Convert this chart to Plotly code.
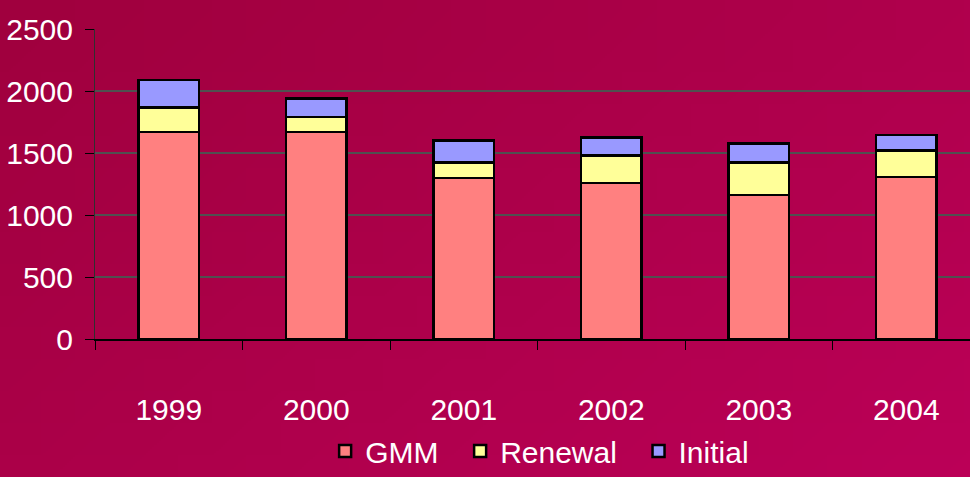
import base64, struct, zlib
import plotly.graph_objects as go

years = ["1999", "2000", "2001", "2002", "2003", "2004"]
gmm = [1670, 1670, 1300, 1260, 1160, 1305]
renewal = [195, 120, 125, 220, 265, 215]
initial = [225, 150, 175, 145, 150, 125]
y_ticks = [0, 500, 1000, 1500, 2000, 2500]

# gradient background image (style only)
def make_png(w, h):
    rows = b""
    for j in range(h):
        rows += b"\x00"
        for i in range(w):
            t = (i / (w - 1)) * 0.6 + (j / (h - 1)) * 0.4
            r = int(0xA0 + (0xBE - 0xA0) * t)
            g = 0
            b = int(0x3E + (0x5A - 0x3E) * t)
            rows += bytes([r, g, b])
    def chunk(tag, data):
        c = tag + data
        return struct.pack(">I", len(data)) + c + struct.pack(">I", zlib.crc32(c) & 0xffffffff)
    png = b"\x89PNG\r\n\x1a\n" + chunk(b"IHDR", struct.pack(">IIBBBBB", w, h, 8, 2, 0, 0, 0))
    png += chunk(b"IDAT", zlib.compress(rows)) + chunk(b"IEND", b"")
    return "data:image/png;base64," + base64.b64encode(png).decode()

FONT = "Liberation Sans, Arial, sans-serif"
FS = 30
PAD = "\u00a0" * 2

fig = go.Figure()
for name, vals, col in [("GMM", gmm, "#FF8080"), ("Renewal", renewal, "#FFFF99"), ("Initial", initial, "#9999FF")]:
    fig.add_trace(go.Bar(x=years, y=vals, name=name + PAD, marker=dict(color=col, line=dict(color="black", width=2.5)),
                         width=0.41))

fig.update_layout(
    barmode="stack",
    width=970, height=477,
    margin=dict(l=95, r=0, t=29, b=138, autoexpand=False),
    paper_bgcolor="#B0004C",
    plot_bgcolor="#C0C0C0",
    font=dict(family=FONT, size=FS, color="white"),
    showlegend=True,
    legend=dict(orientation="h", x=0.263, xanchor="left", yref="container", y=-0.018, yanchor="bottom",
                font=dict(size=FS, color="white"), traceorder="normal",
                bgcolor="rgba(0,0,0,0)"),
    images=[dict(source=make_png(32, 16), xref="paper", yref="paper", x=-0.12, y=1.12,
                 sizex=1.25, sizey=1.65, sizing="stretch", xanchor="left", yanchor="top", layer="below")],
    xaxis=dict(type="category", range=[-0.5, 5.432], showline=True, linecolor="black", linewidth=2,
               ticks="outside", tickson="boundaries", ticklen=9, tickcolor="black", tickwidth=1,
               ticklabelstandoff=43, showgrid=False, tickfont=dict(size=FS, color="white"), automargin=False),
    yaxis=dict(range=[0, 2500], tickvals=y_ticks, showline=True, linecolor="#303030", linewidth=1,
               ticks="outside", ticklen=9, tickcolor="black", showgrid=True, gridcolor="#505050",
               gridwidth=1.5, ticklabelstandoff=6, tickfont=dict(size=FS, color="white"), zeroline=False,
               automargin=False),
)
fig.write_html("out.html", config={"displayModeBar": False},
               post_script="document.body.style.margin='0';document.body.style.overflow='hidden';")
